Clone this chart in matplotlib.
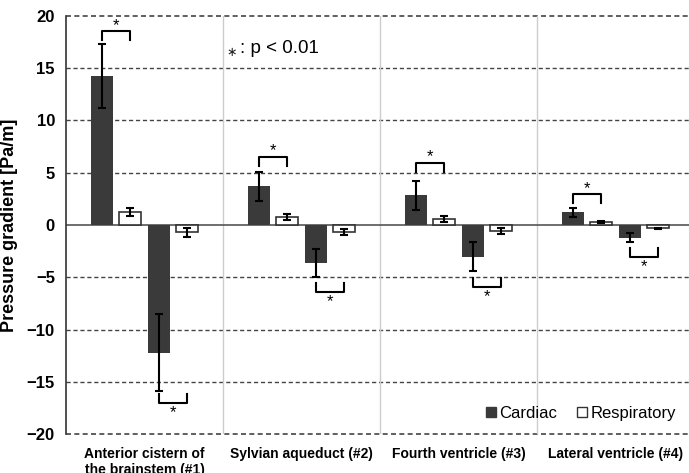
import numpy as np
import matplotlib
matplotlib.use("Agg")
import matplotlib.pyplot as plt
from matplotlib.patches import Patch

plt.rcParams["font.family"] = ["Liberation Sans", "DejaVu Sans"]

regions = ["Anterior cistern of\nthe brainstem (#1)", "Sylvian aqueduct (#2)",
           "Fourth ventricle (#3)", "Lateral ventricle (#4)"]

cardiac_pos = [14.2, 3.7, 2.85, 1.2]
cardiac_pos_err = [3.05, 1.4, 1.37, 0.4]
resp_pos = [1.25, 0.75, 0.55, 0.3]
resp_pos_err = [0.4, 0.3, 0.3, 0.08]
cardiac_neg = [-12.2, -3.65, -3.05, -1.2]
cardiac_neg_err = [3.7, 1.35, 1.38, 0.43]
resp_neg = [-0.7, -0.65, -0.55, -0.3]
resp_neg_err = [0.4, 0.3, 0.3, 0.06]

# significance brackets (y of bracket line)
sig_pos = [18.5, 6.5, 5.95, 2.95]
sig_neg = [-17.0, -6.4, -5.9, -3.06]

fig = plt.figure(figsize=(6.89, 4.73), dpi=100)
ax = fig.add_axes([66 / 689, 38.7 / 473, 628 / 689, 418.6 / 473])

x = np.arange(len(regions))
w = 0.14
offs = [-0.27, -0.09, 0.09, 0.27]
dark = "#3a3a3a"
ekw = dict(ecolor="black", elinewidth=1.5, capsize=3, capthick=1.5)

ax.bar(x + offs[0], cardiac_pos, w, color=dark, yerr=cardiac_pos_err, error_kw=ekw, zorder=3)
ax.bar(x + offs[1], resp_pos, w, color="white", edgecolor="#333333", linewidth=1.2,
       yerr=resp_pos_err, error_kw=ekw, zorder=3)
ax.bar(x + offs[2], cardiac_neg, w, color=dark, yerr=cardiac_neg_err, error_kw=ekw, zorder=3)
ax.bar(x + offs[3], resp_neg, w, color="white", edgecolor="#333333", linewidth=1.2,
       yerr=resp_neg_err, error_kw=ekw, zorder=3)

leg_len = 0.85
for i in range(len(regions)):
    x0, x1 = x[i] + offs[0], x[i] + offs[1]
    yb = sig_pos[i]
    ax.plot([x0, x0, x1, x1], [yb - leg_len, yb, yb, yb - leg_len], color="black", lw=1.5, zorder=4)
    ax.text((x0 + x1) / 2, yb - 0.15, "*", ha="center", va="bottom", fontsize=12)
    x0, x1 = x[i] + offs[2], x[i] + offs[3]
    yb = sig_neg[i]
    ax.plot([x0, x0, x1, x1], [yb + leg_len, yb, yb, yb + leg_len], color="black", lw=1.5, zorder=4)
    ax.text((x0 + x1) / 2, yb - 0.2, "*", ha="center", va="top", fontsize=12)

ax.set_xlim(-0.5, 3.5)
ax.set_ylim(-20, 20)
ax.set_yticks(range(-20, 21, 5))
for t in range(-15, 20, 5):
    if t != 0:
        ax.axhline(t, color="#444444", lw=1, ls=(0, (3, 2)), zorder=1)
for t in (-20, 20):
    ax.axhline(t, color="#444444", lw=1.2, ls=(0, (3, 2)), zorder=1, clip_on=False)
ax.axhline(0, color="#555555", lw=1.2, zorder=2)
for xs in [0.5, 1.5, 2.5]:
    ax.axvline(xs, color="#cccccc", lw=1, zorder=1)

for s in ["right", "bottom", "top"]:
    ax.spines[s].set_visible(False)
ax.spines["left"].set_color("#333333")
ax.spines["left"].set_linewidth(1.2)

ax.set_xticks(x)
ax.set_xticklabels(regions, fontsize=10, fontweight="bold")
ax.tick_params(axis="x", length=0, pad=9)
ax.tick_params(axis="y", length=0, pad=8, labelsize=12)
for lab in ax.get_yticklabels():
    lab.set_fontweight("bold")
ax.set_ylabel("Pressure gradient [Pa/m]", fontsize=13, fontweight="bold")
ax.yaxis.set_label_coords(-0.077, 0.5)

ax.text(0.52, 16.4, "\u2217", fontsize=9, ha="left", va="center", color="#222222")
ax.text(0.61, 16.9, ": p < 0.01", fontsize=13.5, ha="left", va="center")

handles = [Patch(facecolor=dark, edgecolor=dark), Patch(facecolor="white", edgecolor="#333333")]
ax.legend(handles, ["Cardiac", "Respiratory"], loc="lower right", ncol=2, frameon=False,
          fontsize=12, handlelength=0.6, handleheight=0.6, handletextpad=0.2,
          columnspacing=1.2, bbox_to_anchor=(0.995, -0.004))

fig.savefig("out.png", dpi=100)
